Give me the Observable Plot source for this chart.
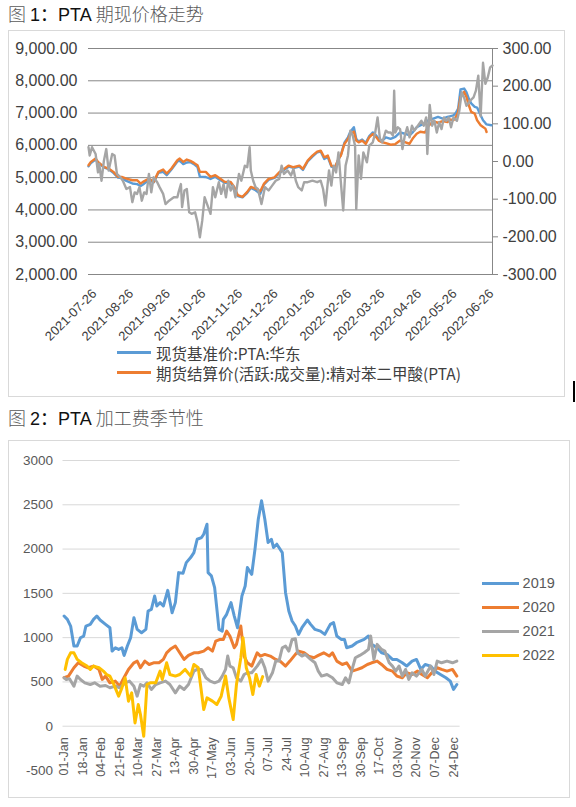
<!DOCTYPE html>
<html><head><meta charset="utf-8">
<script src="https://cdn.jsdelivr.net/npm/d3@7"></script>
<script src="https://cdn.jsdelivr.net/npm/@observablehq/plot@0.6"></script>
<style>
body{margin:0;background:#fff;width:576px;height:807px;position:relative;overflow:hidden;font-family:"Liberation Sans",Arial,"Noto Sans CJK SC",sans-serif;}
.title{position:absolute;left:8px;font-size:18px;line-height:20px;height:22px;white-space:nowrap;font-family:"Liberation Sans","Noto Sans CJK SC",sans-serif;}
.title .cj{color:#5a5a5a;font-family:"Noto Sans CJK SC",sans-serif;font-weight:300;}
.title .la{color:#111;}
.box{position:absolute;border:1px solid #d9d9d9;box-sizing:border-box;}
.plot{position:absolute;left:0;top:0;}
.row{position:absolute;display:flex;align-items:center;height:20px;white-space:nowrap;}
.sw{display:inline-block;}
.l1{font-family:"Noto Sans CJK SC",sans-serif;font-size:15.5px;line-height:18px;color:#404040;margin-left:5px;}
.l2{font-family:"Liberation Sans",Arial,sans-serif;font-size:14.5px;line-height:17px;color:#595959;margin-left:4px;}
</style></head>
<body>
<div class="title" style="top:3px"><span class="cj">图 </span><span class="la">1：PTA </span><span class="cj">期现价格走势</span></div>
<div class="box" id="box1" style="left:8px;top:30px;width:557px;height:367px"></div>
<div class="title" style="top:407px"><span class="cj">图 </span><span class="la">2：PTA </span><span class="cj">加工费季节性</span></div>
<div class="box" id="box2" style="left:8px;top:440px;width:562px;height:358px"></div>
<div style="position:absolute;left:573px;top:381px;width:2px;height:21px;background:#000"></div>
<script>
// ---------- Figure 1 data ----------
const priceDates = [
"2021-07-21","2021-07-23","2021-07-27","2021-07-29","2021-08-03","2021-08-07","2021-08-11","2021-08-15","2021-08-18","2021-08-22","2021-08-27","2021-08-31",
"2021-09-03","2021-09-05","2021-09-10","2021-09-14","2021-09-18","2021-09-22","2021-09-25","2021-09-29",
"2021-10-04","2021-10-06","2021-10-09","2021-10-12","2021-10-15","2021-10-18","2021-10-21","2021-10-23","2021-10-28",
"2021-11-01","2021-11-05","2021-11-09","2021-11-13","2021-11-18","2021-11-21","2021-11-24","2021-11-28",
"2021-12-02","2021-12-05","2021-12-09","2021-12-13","2021-12-16","2021-12-20","2021-12-25","2021-12-29",
"2022-01-02","2022-01-06","2022-01-10","2022-01-15","2022-01-18","2022-01-22","2022-01-26","2022-01-30",
"2022-02-02","2022-02-05","2022-02-08","2022-02-11","2022-02-14","2022-02-17","2022-02-19","2022-02-22","2022-02-25","2022-02-27",
"2022-03-02","2022-03-04","2022-03-06","2022-03-09","2022-03-12","2022-03-15","2022-03-18","2022-03-21","2022-03-23","2022-03-26","2022-03-29",
"2022-04-02","2022-04-06","2022-04-10","2022-04-14","2022-04-18","2022-04-21","2022-04-24","2022-04-27",
"2022-05-01","2022-05-04","2022-05-08","2022-05-12","2022-05-16","2022-05-20","2022-05-22","2022-05-25","2022-05-27","2022-05-29","2022-05-31",
"2022-06-03","2022-06-05","2022-06-07","2022-06-09","2022-06-12","2022-06-14","2022-06-17","2022-06-19","2022-06-21","2022-06-22","2022-06-26"];
const spotPrice = [
5350,5450,5560,5470,5320,5260,5150,5000,4990,4900,4820,4800,
4740,4790,4930,4850,5150,5180,5075,5250,
5500,5530,5420,5470,5480,5420,5330,5030,5020,
4960,5030,4930,4840,4830,4680,4430,4390,
4530,4680,4610,4500,4780,4930,4990,5140,
5240,5340,5300,5340,5240,5500,5650,5780,
5810,5580,5640,5340,5300,5560,5700,6080,6250,6420,
6560,6200,6120,6180,6080,6290,6400,6300,6200,6150,6250,
6200,6260,6400,6360,6310,6420,6560,6620,
6680,6780,6830,6880,6830,6880,6900,6930,7000,7140,7730,
7760,7650,7450,7300,7190,7170,6930,6780,6690,6650,6622];
const futuresPrice = [
5385,5488,5591,5488,5333,5282,5179,5024,5024,4972,4920,4920,
4817,4869,4972,4869,5179,5251,5127,5282,
5540,5591,5488,5560,5519,5457,5385,5179,5179,
5024,5075,4972,4869,4869,4714,4456,4404,
4559,4714,4662,4580,4805,4960,5011,5166,
5269,5373,5321,5373,5269,5527,5682,5806,
5837,5630,5682,5373,5321,5579,5682,6043,6198,6353,
6425,6147,6095,6147,6043,6250,6353,6250,6147,6095,6070,
6020,6040,6150,6100,6050,6230,6360,6420,
6400,6600,6740,6700,6750,6720,6800,6780,6880,7036,7500,
7658,7500,7243,7036,6984,6777,6622,6570,6518,6414,null];
const basisDates = [
"2021-07-21","2021-07-22","2021-07-24","2021-07-27","2021-07-29","2021-07-30","2021-08-01","2021-08-03","2021-08-05","2021-08-07","2021-08-10","2021-08-12","2021-08-14","2021-08-17","2021-08-19","2021-08-22","2021-08-25","2021-08-27","2021-08-29","2021-08-31",
"2021-09-02","2021-09-04","2021-09-06","2021-09-08","2021-09-10","2021-09-12","2021-09-14","2021-09-17","2021-09-19","2021-09-22","2021-09-24","2021-09-27",
"2021-10-01","2021-10-04","2021-10-05","2021-10-07","2021-10-08","2021-10-10","2021-10-12","2021-10-14","2021-10-16","2021-10-19","2021-10-21","2021-10-23","2021-10-25","2021-10-27","2021-10-30",
"2021-11-01","2021-11-03","2021-11-05","2021-11-08","2021-11-10","2021-11-12","2021-11-14","2021-11-16","2021-11-18","2021-11-20","2021-11-22","2021-11-25","2021-11-27","2021-11-30",
"2021-12-02","2021-12-04","2021-12-05","2021-12-07","2021-12-09","2021-12-11","2021-12-14","2021-12-17","2021-12-20","2021-12-23","2021-12-26","2021-12-29","2021-12-31",
"2022-01-02","2022-01-05","2022-01-08","2022-01-10","2022-01-12","2022-01-14","2022-01-17","2022-01-19","2022-01-22","2022-01-26","2022-01-30",
"2022-02-02","2022-02-04","2022-02-06","2022-02-07","2022-02-09","2022-02-11","2022-02-13","2022-02-15","2022-02-17","2022-02-19","2022-02-21","2022-02-23","2022-02-25","2022-02-27",
"2022-03-01","2022-03-03","2022-03-04","2022-03-06","2022-03-08","2022-03-10","2022-03-13","2022-03-15","2022-03-18","2022-03-20","2022-03-22","2022-03-24","2022-03-26","2022-03-29","2022-03-31",
"2022-04-02","2022-04-04","2022-04-05","2022-04-06","2022-04-08","2022-04-10","2022-04-12","2022-04-14","2022-04-16","2022-04-18","2022-04-20","2022-04-22","2022-04-25","2022-04-28","2022-04-30",
"2022-05-02","2022-05-03","2022-05-05","2022-05-07","2022-05-09","2022-05-11","2022-05-13","2022-05-15","2022-05-17","2022-05-19","2022-05-21","2022-05-23","2022-05-25","2022-05-28","2022-05-30",
"2022-06-01","2022-06-03","2022-06-05","2022-06-08","2022-06-11","2022-06-13","2022-06-15","2022-06-17","2022-06-19","2022-06-21","2022-06-23","2022-06-25","2022-06-27"];
const basisValues = [
38,16,38,20,-29,-6,-51,2,33,-24,20,16,-33,-42,-51,-73,-68,-108,-82,-86,
-68,-104,-82,-86,-33,-82,-42,-55,-68,-86,-113,-104,
-95,-95,-82,-60,-121,-77,-73,-135,-139,-135,-161,-201,-157,-95,-121,
-139,-68,-95,-55,-86,-60,-95,-51,-77,-64,-95,-33,-51,-11,
-15,38,-24,-51,-68,-73,-113,-68,-77,-64,-51,-46,-11,
-33,-24,-37,-20,-51,-68,-77,-55,-55,-51,-55,
-51,-73,-117,-86,-24,-64,-11,-29,24,-55,-130,-11,16,82,
69,42,-126,16,-46,24,-2,42,51,77,117,60,51,82,77,
77,69,188,77,91,86,33,69,91,64,95,82,95,108,95,
117,20,150,95,108,77,104,86,117,108,117,91,117,108,135,
184,170,148,161,170,188,228,120,262,206,223,250,255];
const priceTicks = [2000,3000,4000,5000,6000,7000,8000,9000];
const basisTicks = [-300,-200,-100,0,100,200,300];
const monthTicks = ["2021-07-26","2021-08-26","2021-09-26","2021-10-26","2021-11-26","2021-12-26","2022-01-26","2022-02-26","2022-03-26","2022-04-26","2022-05-26","2022-06-26"];
const seriesNames1 = ["现货基准价:PTA:华东","期货结算价(活跃:成交量):精对苯二甲酸(PTA)"];

// ---------- Figure 2 data ----------
const d2019 = ["01-01","01-04","01-07","01-10","01-13","01-16","01-19","01-21","01-25","01-28","01-31",
"02-03","02-08","02-12","02-14","02-17","02-20","02-23","02-25","02-28",
"03-03","03-06","03-09","03-13","03-17","03-19","03-22","03-25","03-27","03-30",
"04-02","04-06","04-10","04-13","04-16","04-20","04-23","04-27","04-30",
"05-03","05-07","05-09","05-12","05-13","05-16","05-19","05-23","05-26","05-27","05-30",
"06-03","06-06","06-09","06-13","06-16","06-18","06-22","06-25","06-28",
"07-01","07-04","07-07","07-10","07-12","07-15","07-20","07-23","07-26","07-29",
"08-01","08-04","08-07","08-12","08-15","08-19","08-24","08-28",
"09-02","09-05","09-08","09-12","09-15","09-17","09-22","09-26",
"10-03","10-07","10-10","10-15","10-19","10-24","10-29",
"11-02","11-07","11-11","11-16","11-20","11-24","11-28",
"12-03","12-07","12-12","12-17","12-21","12-24","12-27"];
const v2019 = [1244,1206,1131,905,905,999,1018,1131,1150,1206,1244,
1199,1150,1112,848,886,867,886,799,905,
999,1225,1093,1056,1093,1301,1320,1470,1357,1395,
1357,1534,1282,1395,1734,1727,1847,1904,1960,
2111,2130,2168,2281,1734,1697,1565,1093,1074,1206,1263,
1395,1244,1112,1470,1583,1791,1715,2000,2337,
2545,2337,2074,2111,2017,2055,1960,1508,1301,1188,
1131,1037,1112,1199,1150,1093,1074,1037,
1150,1169,1018,980,980,886,905,943,
980,1018,924,886,829,811,754,
754,716,679,735,754,641,697,
679,622,584,547,509,415,471];
const d2020 = ["01-01","01-05","01-10","01-14","01-19","01-23","01-28",
"02-02","02-05","02-08","02-12","02-17","02-21","02-24",
"03-01","03-06","03-09","03-12","03-16","03-20","03-24","03-29",
"04-02","04-05","04-09","04-13","04-17","04-21","04-25","04-30",
"05-04","05-09","05-13","05-17","05-20","05-24","05-27","05-30",
"06-02","06-06","06-08","06-12","06-15","06-18","06-22","06-27","06-30",
"07-04","07-09","07-14","07-18","07-23","07-27",
"08-01","08-04","08-09","08-13","08-18","08-22","08-27",
"09-01","09-04","09-08","09-13","09-17","09-22","09-27",
"10-01","10-06","10-10","10-15","10-19","10-24","10-29",
"11-02","11-07","11-11","11-16","11-21","11-25","11-30",
"12-04","12-09","12-13","12-18","12-23","12-27"];
const v2020 = [547,566,660,716,679,660,679,
641,528,566,490,509,452,528,
641,716,735,660,735,697,716,716,
754,829,875,905,829,754,799,829,
829,848,886,848,961,980,980,1074,
1018,886,924,1131,792,716,679,829,792,
811,792,754,735,679,735,
811,848,829,792,773,799,829,
792,829,735,697,716,622,641,
660,697,716,735,697,641,622,
566,547,603,584,622,584,547,
603,660,641,622,641,566];
const d2021 = ["01-01","01-03","01-06","01-10","01-13","01-16","01-20","01-25","01-29",
"02-03","02-08","02-12","02-17","02-21","02-26",
"03-02","03-06","03-09","03-12","03-15","03-18","03-22","03-26","03-30",
"04-04","04-08","04-13","04-17","04-21","04-25","04-30",
"05-03","05-07","05-11","05-15","05-19","05-23","05-26","05-29","05-31",
"06-02","06-05","06-08","06-12","06-15","06-18","06-22","06-27",
"07-01","07-04","07-07","07-11","07-14","07-17","07-20","07-23","07-26","07-29",
"08-01","08-03","08-07","08-10","08-15","08-19","08-22","08-25","08-30",
"09-04","09-08","09-13","09-16","09-19","09-22","09-25","09-29",
"10-03","10-07","10-09","10-12","10-15","10-19","10-22","10-26","10-29",
"11-01","11-04","11-07","11-10","11-13","11-16","11-20","11-25","11-28",
"12-03","12-06","12-09","12-13","12-18","12-23","12-27"];
const v2021 = [547,528,535,452,566,528,490,471,490,
452,460,434,452,434,490,
509,452,339,471,452,490,415,471,490,
509,471,377,452,415,471,622,
641,641,547,509,490,509,566,641,792,
679,660,547,509,584,603,603,679,
754,660,509,603,735,735,886,905,848,980,
988,829,792,811,754,716,622,566,584,
547,490,471,547,490,641,773,799,
829,867,1018,754,924,867,848,716,679,
622,679,566,641,528,603,566,641,566,
679,584,735,716,735,716,735];
const d2022 = ["01-02","01-04","01-07","01-10","01-13","01-17","01-22","01-25","01-28",
"02-02","02-06","02-09","02-12","02-15","02-20","02-23","02-26",
"03-01","03-04","03-07","03-10","03-12","03-15","03-18","03-21","03-26","03-30",
"04-01","04-05","04-08","04-13","04-17","04-22","04-27","04-30",
"05-04","05-09","05-12","05-17","05-21","05-25","05-29",
"06-01","06-05","06-08","06-12","06-14","06-17","06-20","06-23","06-26","06-29","07-02"];
const v2022 = [641,754,829,829,754,716,679,641,679,
660,622,584,566,490,339,433,546,
283,377,37,245,132,-113,471,490,490,622,
528,716,584,566,584,641,566,697,
660,188,320,283,245,339,566,
320,75,471,773,999,660,546,358,584,452,560];
const years = ["2019","2020","2021","2022"];
const seasonLabels = ["01-Jan","18-Jan","04-Feb","21-Feb","10-Mar","27-Mar","13-Apr","30-Apr","17-May","03-Jun","20-Jun","07-Jul","24-Jul","10-Aug","27-Aug","13-Sep","30-Sep","17-Oct","03-Nov","20-Nov","07-Dec","24-Dec"];
const feeTicks = [-500,0,500,1000,1500,2000,2500,3000];
const feeGrid = [0,500,1000,1500,2000,2500,3000];

// ---------- colours ----------
const blue = "#5B9BD5", orange = "#ED7D31", gray = "#A5A5A5", yellow = "#FFC000";

// ---------- Figure 1 ----------
const toPrice = b => 2000 + (b + 300) * 7000 / 600;
const fromPrice = p => (p - 2000) * 600 / 7000 - 300;
const pRows = priceDates.map((d, i) => ({date: new Date(d), spot: spotPrice[i], fut: futuresPrice[i]}));
const bRows = basisDates.map((d, i) => ({date: new Date(d), p: toPrice(basisValues[i])}));

const fig1 = Plot.plot({
  width: 555, height: 310,
  marginLeft: 79, marginRight: 72, marginTop: 17, marginBottom: 67,
  style: {fontFamily: "'Liberation Sans', Arial, sans-serif", background: "transparent", overflow: "visible"},
  x: {type: "utc", domain: [new Date("2021-07-21"), new Date("2022-06-27")], axis: null},
  y: {domain: [2000, 9000], axis: null},
  marks: [
    Plot.ruleY(priceTicks, {stroke: "#878787", strokeWidth: 1}),
    Plot.axisY(priceTicks, {anchor: "left", label: null, tickSize: 0, tickPadding: 11, tickFormat: d3.format(",.2f"), fontSize: 16, fill: "#404040"}),
    Plot.frame({anchor: "right", stroke: "#878787"}),
    Plot.axisY(basisTicks.map(toPrice), {anchor: "right", label: null, tickSize: 5, tickPadding: 5, tickFormat: p => fromPrice(p).toFixed(2), fontSize: 16, fill: "#404040", stroke: "#878787"}),
    Plot.text(monthTicks, {x: d => new Date(d), y: () => 2000, text: d => d, rotate: -45, textAnchor: "end", dy: 17, fontSize: 13, fill: "#404040"}),
    Plot.line(pRows, {x: "date", y: "spot", stroke: blue, strokeWidth: 2.4, strokeLinejoin: "round"}),
    Plot.line(pRows, {x: "date", y: "fut", stroke: orange, strokeWidth: 2.4, strokeLinejoin: "round"}),
    Plot.line(bRows, {x: "date", y: "p", stroke: gray, strokeWidth: 2.4, strokeLinejoin: "round"})
  ]
});
fig1.classList.add("plot");
const box1 = document.getElementById("box1");
box1.appendChild(fig1);
[[blue, seriesNames1[0], 321.7], [orange, seriesNames1[1], 341.7]].forEach(([c, t, cy]) => {
  const r = document.createElement("div");
  r.className = "row";
  r.style.left = "108px"; r.style.top = (cy - 10) + "px";
  r.innerHTML = `<span class="sw" style="width:34px;height:3px;background:${c}"></span><span class="l1">${t}</span>`;
  box1.appendChild(r);
});

// ---------- Figure 2 ----------
const parseMD = s => { const [m, d] = s.split("-").map(Number); return new Date(Date.UTC(2021, m - 1, d)); };
const parseLabel = d3.utcParse("%d-%b-%Y");
const seriesData = [[d2019, v2019], [d2020, v2020], [d2021, v2021], [d2022, v2022]];
const colors2 = [blue, orange, gray, yellow];

const fig2 = Plot.plot({
  width: 560, height: 356,
  marginLeft: 53.5, marginRight: 109.4, marginTop: 19, marginBottom: 27,
  style: {fontFamily: "'Liberation Sans', Arial, sans-serif", background: "transparent", overflow: "visible"},
  x: {type: "utc", domain: [new Date(Date.UTC(2020, 11, 31)), new Date(Date.UTC(2021, 11, 30))], axis: null},
  y: {domain: [-500, 3000], axis: null},
  marks: [
    Plot.ruleY(feeGrid, {stroke: "#d9d9d9", strokeWidth: 1}),
    Plot.axisY(feeTicks, {anchor: "left", label: null, tickSize: 0, tickPadding: 10, fontSize: 13.5, fill: "#595959", tickFormat: d => (d < 0 ? "-" : "") + Math.abs(d)}),
    Plot.text(seasonLabels, {x: d => parseLabel(d + "-2021"), y: () => 0, text: d => d, rotate: -90, textAnchor: "end", dy: 11, fontSize: 12.5, fill: "#595959"}),
    ...seriesData.map(([ds, vs], k) =>
      Plot.line(ds.map((d, i) => ({date: parseMD(d), v: vs[i]})), {x: "date", y: "v", stroke: colors2[k], strokeWidth: 3, strokeLinejoin: "round", strokeLinecap: "round"}))
  ]
});
fig2.classList.add("plot");
const box2 = document.getElementById("box2");
box2.appendChild(fig2);
years.forEach((y, k) => {
  const r = document.createElement("div");
  r.className = "row";
  r.style.left = "472.6px"; r.style.top = (142.3 + 24 * k - 10) + "px";
  r.innerHTML = `<span class="sw" style="width:37px;height:3.5px;background:${colors2[k]}"></span><span class="l2">${y}</span>`;
  box2.appendChild(r);
});
</script>
</body></html>
